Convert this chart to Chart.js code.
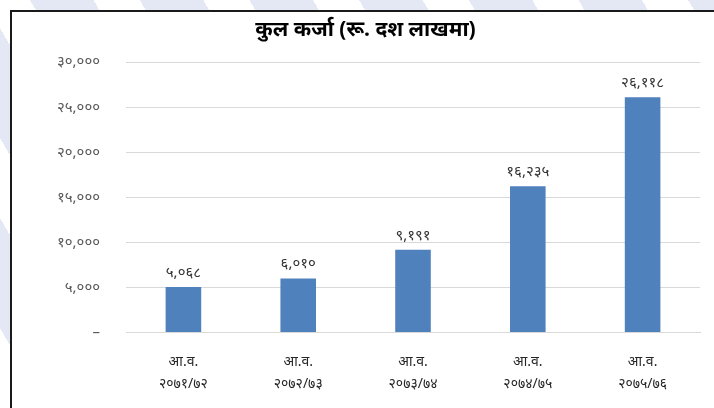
<!DOCTYPE html>
<html>
<head>
<meta charset="utf-8">
<script src="https://cdn.jsdelivr.net/npm/chart.js@4"></script>
<style>
  body {
    margin: 0;
    width: 714px;
    height: 408px;
    overflow: hidden;
    background: repeating-linear-gradient(60deg, #ffffff 0px, #ffffff 40px, #e4e7f4 40px, #e4e7f4 95px);
  }
  #moldura {
    position: absolute;
    left: 10px;
    top: 10px;
    width: 720px;
    height: 420px;
    border: 2px solid #1a1a1a;
    background: #fff;
  }
  canvas {
    position: absolute;
    left: 0;
    top: 0;
  }
</style>
</head>
<body>
<div id="moldura"></div>
<canvas id="grafico" width="714" height="408"></canvas>

<script>
// dados
let anos = ["२०७१/७२", "२०७२/७३", "२०७३/७४", "२०७४/७५", "२०७५/७६"];
let prefixo = "आ.व.";
let valores = [5068, 6010, 9191, 16235, 26118];
let ticksY = [0, 5000, 10000, 15000, 20000, 25000, 30000];

// numeros em devanagari
let digitos = ["०", "१", "२", "३", "४", "५", "६", "७", "८", "९"];

function devanagari(n) {
  let s = n.toLocaleString("en-US");
  return s.replace(/[0-9]/g, d => digitos[parseInt(d)]);
}

let fonte = "'Noto Sans', 'Liberation Sans', sans-serif";

// rotulos em cima das barras
let rotulos = {
  id: "rotulos",
  afterDatasetsDraw(chart) {
    let ctx = chart.ctx;
    let meta = chart.getDatasetMeta(0);
    ctx.save();
    ctx.font = "15px " + fonte;
    ctx.fillStyle = "#333";
    ctx.textAlign = "center";
    ctx.textBaseline = "bottom";
    meta.data.forEach((barra, i) => {
      ctx.fillText(devanagari(valores[i]), barra.x, barra.y - 7);
    });
    ctx.restore();
  }
};

let ctx = document.getElementById("grafico").getContext("2d");

let chart = new Chart(ctx, {
  type: "bar",
  data: {
    labels: anos.map(a => [prefixo, a]),
    datasets: [{
      data: valores,
      backgroundColor: "#4f81bd",
      barPercentage: 0.62,
      categoryPercentage: 0.5
    }]
  },
  plugins: [rotulos],
  options: {
    responsive: false,
    animation: false,
    layout: {
      padding: { left: 31, right: 14, top: 6, bottom: 2 }
    },
    plugins: {
      legend: { display: false },
      tooltip: { enabled: false },
      title: {
        display: true,
        text: "कुल कर्जा (रू. दश लाखमा)",
        color: "#000",
        font: { size: 21, weight: "bold", family: fonte },
        padding: { top: 11, bottom: 20 }
      }
    },
    scales: {
      x: {
        grid: { display: false },
        border: { color: "#d9d9d9" },
        ticks: {
          color: "#262626",
          font: { size: 14, family: fonte, lineHeight: 1.55 },
          padding: 11
        }
      },
      y: {
        min: 0,
        max: 30000,
        afterBuildTicks: axis => {
          axis.ticks = ticksY.map(v => ({ value: v }));
        },
        grid: { color: "#d9d9d9", drawTicks: false },
        border: { display: false },
        ticks: {
          color: "#595959",
          font: { size: 15, family: fonte },
          padding: 26,
          callback: v => v === 0 ? "–" : devanagari(v)
        }
      }
    }
  }
});
</script>
</body>
</html>
